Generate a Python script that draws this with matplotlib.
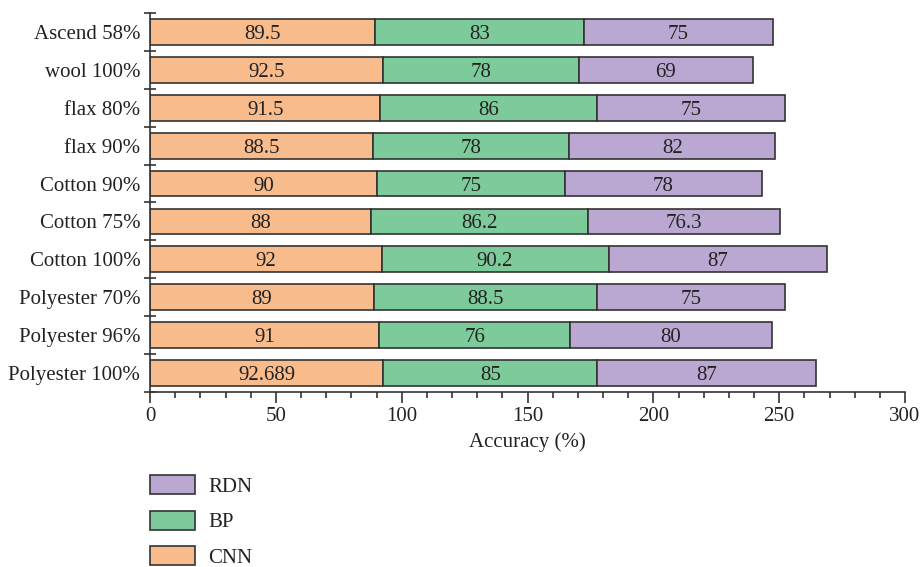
import numpy as np
import matplotlib
matplotlib.use("Agg")
import matplotlib.pyplot as plt
from matplotlib.patches import Patch
from matplotlib.ticker import MultipleLocator, FixedLocator

# data (bottom to top)
categories = ["Polyester 100%", "Polyester 96%", "Polyester 70%", "Cotton 100%",
              "Cotton 75%", "Cotton 90%", "flax 90%", "flax 80%", "wool 100%", "Ascend 58%"]
cnn = [92.689, 91, 89, 92, 88, 90, 88.5, 91.5, 92.5, 89.5]
bp = [85, 76, 88.5, 90.2, 86.2, 75, 78, 86, 78, 83]
rdn = [87, 80, 75, 87, 76.3, 78, 82, 75, 69, 75]
cnn_labels = ["92.689", "91", "89", "92", "88", "90", "88.5", "91.5", "92.5", "89.5"]
bp_labels = ["85", "76", "88.5", "90.2", "86.2", "75", "78", "86", "78", "83"]
rdn_labels = ["87", "80", "75", "87", "76.3", "78", "82", "75", "69", "75"]

plt.rcParams['font.family'] = ['Liberation Serif', 'DejaVu Serif']
plt.rcParams['font.size'] = 15

c_cnn = "#F8BB8C"
c_bp = "#7DCB9A"
c_rdn = "#BBA8D2"
edge = "#333333"
txt = "#222222"

fig = plt.figure(figsize=(9.24, 5.67), dpi=100)
ax = fig.add_axes([150 / 924, 1 - 392 / 567, 755 / 924, 379 / 567])

y = np.arange(len(categories))
cnn_a = np.array(cnn)
bp_a = np.array(bp)
rdn_a = np.array(rdn)
h = 0.68
b1 = ax.barh(y, cnn_a, height=h, color=c_cnn, edgecolor=edge, linewidth=1.2)
b2 = ax.barh(y, bp_a, left=cnn_a, height=h, color=c_bp, edgecolor=edge, linewidth=1.2)
b3 = ax.barh(y, rdn_a, left=cnn_a + bp_a, height=h, color=c_rdn, edgecolor=edge, linewidth=1.2)

# value labels in the middle of each segment
for bars, labs in [(b1, cnn_labels), (b2, bp_labels), (b3, rdn_labels)]:
    for rect, lab in zip(bars, labs):
        cx = rect.get_x() + rect.get_width() / 2
        cy = rect.get_y() + rect.get_height() / 2
        ax.text(cx, cy, lab, ha='center', va='center_baseline', fontsize=15, color=txt)

ax.set_xlim(0, 300)
ax.set_ylim(-0.5, len(categories) - 0.5)
ax.set_yticks(y)
ax.set_yticklabels(categories, color=txt)
ax.yaxis.set_minor_locator(FixedLocator(np.arange(-0.5, len(categories), 1.0)))
ax.tick_params(axis='y', which='major', length=0, pad=7)
ax.tick_params(axis='y', which='minor', direction='inout', length=9, width=1.2, color=edge)

ax.xaxis.set_major_locator(MultipleLocator(50))
ax.xaxis.set_minor_locator(MultipleLocator(10))
ax.tick_params(axis='x', which='major', length=8, width=1.2, color=edge, labelcolor=txt, pad=3)
ax.tick_params(axis='x', which='minor', length=4, width=1.2, color=edge)

for s in ['top', 'right']:
    ax.spines[s].set_visible(False)
for s in ['left', 'bottom']:
    ax.spines[s].set_linewidth(1.2)
    ax.spines[s].set_color(edge)

ax.set_xlabel("Accuracy (%)", color=txt, labelpad=4)

handles = [Patch(facecolor=c_rdn, edgecolor=edge, linewidth=1.2, label="RDN"),
           Patch(facecolor=c_bp, edgecolor=edge, linewidth=1.2, label="BP"),
           Patch(facecolor=c_cnn, edgecolor=edge, linewidth=1.2, label="CNN")]
fig.legend(handles=handles, loc='upper left', bbox_to_anchor=(150 / 924, 1 - 475 / 567),
           frameon=False, borderpad=0, borderaxespad=0, handlelength=2.16, handleheight=1.05,
           handletextpad=0.62, labelspacing=0.66, labelcolor=txt)

fig.savefig("out.png", dpi=100)
